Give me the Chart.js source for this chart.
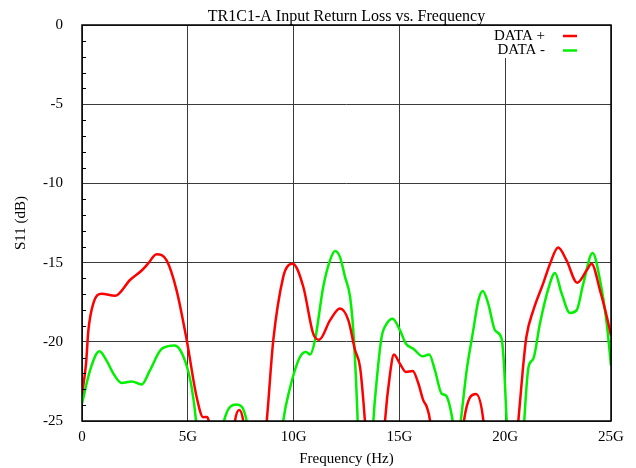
<!DOCTYPE html>
<html>
<head>
<meta charset="utf-8">
<title>TR1C1-A Input Return Loss</title>
<script src="https://cdn.jsdelivr.net/npm/chart.js@4.4.0/dist/chart.umd.min.js"></script>
<style>
    html, body { margin: 0; padding: 0; background: #fff; }
    #wrap { width: 636px; height: 468px; }
</style>
</head>
<body>
<div id="wrap"><canvas id="s11Chart" width="636" height="468"></canvas></div>
<script>
// Frequency in GHz, S11 in dB. Values below -25 dB run off the plot and get clipped.
const dataPlusFreq = [
    0.0, 0.19, 0.3, 0.53, 0.93, 1.56, 2.27, 2.82, 3.1, 3.53, 4.0, 4.47, 4.95, 5.42, 5.73, 5.9, 6.02, 6.3,
    7.0, 7.23, 7.43, 7.62, 7.85, 8.4, 8.73, 9.04, 9.51, 9.75, 9.96, 10.46, 10.93, 11.21, 11.72, 12.19,
    12.59, 12.9, 13.14, 13.37, 13.6, 14.1, 14.32, 14.56, 14.74, 15.03, 15.31, 15.63, 15.9, 16.13, 16.29,
    16.45, 16.7, 17.8, 18.05, 18.62, 18.97, 19.2, 20.4, 20.62, 20.83, 21.0, 21.33, 21.8, 22.12, 22.5,
    22.9, 23.4, 23.85, 24.08, 24.48, 24.8, 25.0
];
const dataPlusS11 = [
    -23.3, -21.4, -19.3, -17.6, -16.96, -17.1, -16.1, -15.5, -15.1, -14.47, -14.86, -16.75, -19.9, -23.5, -24.76, -24.75, -25.2, -29,
    -28, -25, -24.3, -25, -28, -29, -25, -19.9, -15.9, -15.17, -15.07, -16.54, -19.5, -19.87, -18.65, -17.9,
    -18.65, -20.5, -21.6, -25, -30, -30, -25, -22.0, -20.8, -21.4, -21.9, -21.85, -22.65, -23.7, -24.1,
    -25, -29, -29, -25, -23.3, -25, -29, -29, -25, -21.8, -19.7, -18.0, -16.3, -15.07, -14.05,
    -14.86, -16.27, -15.49, -15.07, -16.75, -18.4, -19.6
];

const dataMinusFreq = [
    0.0, 0.38, 0.82, 1.17, 1.48, 1.87, 2.35, 2.82, 3.21, 3.77, 4.39, 4.87, 5.18, 5.39, 5.6, 6.5, 6.71,
    7.31, 7.78, 8.0, 9.2, 9.51, 9.8, 10.3, 10.59, 10.78, 11.01, 11.4, 11.72, 11.96, 12.19, 12.43, 12.67,
    12.82, 12.95, 13.03, 13.2, 13.6, 13.77, 13.93, 14.16, 14.4, 14.68, 15.03, 15.31, 15.66, 16.1, 16.41,
    16.68, 17.0, 17.2, 17.52, 17.71, 17.9, 18.18, 18.49, 18.73, 18.94, 19.2, 19.52, 19.83, 19.94, 20.07,
    20.3, 20.7, 20.9, 21.1, 21.33, 21.64, 22.04, 22.35, 22.67, 23.06, 23.38, 23.69, 24.13, 24.48, 24.8, 25.0
];
const dataMinusS11 = [
    -23.9, -21.8, -20.6, -21.2, -22.0, -22.6, -22.5, -22.7, -21.8, -20.44, -20.23, -21.2, -22.86, -25, -29, -29, -25,
    -23.96, -25, -29, -29, -25, -23.07, -20.96, -20.65, -20.8, -19.9, -16.54, -14.86, -14.27, -14.64, -15.9, -17.17,
    -19.28, -22.4, -25, -30, -30, -25, -22.4, -19.7, -18.86, -18.54, -19.28, -20.12, -20.44, -20.92, -20.8,
    -21.8, -23.28, -23.39, -25, -27, -25, -21.8, -19.28, -17.4, -16.8, -17.6, -19.28, -19.8, -21.4, -25,
    -30, -30, -25, -21.6, -21.07, -18.86, -16.64, -15.65, -16.96, -18.18, -18.0, -16.33, -14.39, -16.1, -18.86, -21.5
];

const freqTicks = [0, 5, 10, 15, 20, 25];
const freqTickLabels = ['0', '5G', '10G', '15G', '20G', '25G'];
const s11Ticks = [0, -5, -10, -15, -20, -25];
const s11TickLabels = ['0', '-5', '-10', '-15', '-20', '-25'];
const seriesNames = ['DATA +', 'DATA -'];

const colors = {
    plus: '#ff0000',
    minus: '#00f000',
    grid: '#3a3a3a',
    frame: '#000000'
};
const FONT = "'Liberation Serif', 'Times New Roman', serif";

function toPoints(xs, ys) {
    return xs.map((x, i) => ({ x: x, y: ys[i] }));
}

// gnuplot look: frame, minor y ticks, centered title and the key in the top right corner
const gnuplotFrame = {
    id: 'gnuplotFrame',
    beforeDatasetsDraw(chart) {
        const { ctx, chartArea } = chart;
        // key background hides the grid behind it
        ctx.save();
        ctx.fillStyle = '#fff';
        ctx.fillRect(chartArea.right - 126, chartArea.top + 1, 125, 32);
        ctx.restore();
    },
    afterDatasetsDraw(chart) {
        const { ctx, chartArea } = chart;
        const yScale = chart.scales.y;
        ctx.save();
        ctx.strokeStyle = colors.frame;
        ctx.lineWidth = 1;
        for (let v = -24; v < 0; v++) {
            if (v % 5 === 0) continue;
            const py = Math.round(yScale.getPixelForValue(v)) + 0.5;
            ctx.beginPath();
            ctx.moveTo(chartArea.left, py);
            ctx.lineTo(chartArea.left + 4, py);
            ctx.stroke();
        }
        ctx.lineWidth = 1.5;
        ctx.strokeRect(chartArea.left, chartArea.top, chartArea.right - chartArea.left, chartArea.bottom - chartArea.top);
        ctx.restore();
    },
    afterDraw(chart) {
        const { ctx, chartArea } = chart;
        ctx.save();
        ctx.fillStyle = '#000';
        ctx.font = '16px ' + FONT;
        ctx.textAlign = 'center';
        ctx.textBaseline = 'alphabetic';
        ctx.fillText('TR1C1-A Input Return Loss vs. Frequency', (chartArea.left + chartArea.right) / 2, 21);

        // key
        ctx.font = '15px ' + FONT;
        ctx.textAlign = 'right';
        ctx.textBaseline = 'middle';
        const keyColors = [colors.plus, colors.minus];
        seriesNames.forEach((name, i) => {
            const y = chartArea.top + 11 + i * 14.5;
            ctx.fillStyle = '#000';
            ctx.fillText(name, chartArea.right - 66, y);
            ctx.strokeStyle = keyColors[i];
            ctx.lineWidth = 2.5;
            ctx.beginPath();
            ctx.moveTo(chartArea.right - 48, y);
            ctx.lineTo(chartArea.right - 34, y);
            ctx.stroke();
        });
        ctx.restore();
    }
};

const lineStyle = {
    borderWidth: 2.5,
    pointRadius: 0,
    fill: false,
    cubicInterpolationMode: 'monotone',
    clip: 0
};

const config = {
    type: 'line',
    data: {
        datasets: [
            Object.assign({
                label: seriesNames[0],
                data: toPoints(dataPlusFreq, dataPlusS11),
                borderColor: colors.plus
            }, lineStyle),
            Object.assign({
                label: seriesNames[1],
                data: toPoints(dataMinusFreq, dataMinusS11),
                borderColor: colors.minus
            }, lineStyle)
        ]
    },
    options: {
        responsive: false,
        animation: false,
        devicePixelRatio: 1,
        layout: {
            padding: { top: 25, right: 25, left: 0, bottom: 0 }
        },
        plugins: {
            legend: { display: false },
            title: { display: false },
            tooltip: { enabled: false }
        },
        scales: {
            x: {
                type: 'linear',
                min: 0,
                max: 25,
                afterFit: (scale) => { scale.height = 47; },
                afterBuildTicks: (scale) => { scale.ticks = freqTicks.map(v => ({ value: v })); },
                grid: { color: colors.grid, lineWidth: 1, drawTicks: false },
                border: { display: false },
                ticks: {
                    padding: 7,
                    color: '#000',
                    font: { family: FONT, size: 15 },
                    maxRotation: 0,
                    autoSkip: false,
                    callback: (value) => freqTickLabels[freqTicks.indexOf(value)]
                },
                title: {
                    display: true,
                    text: 'Frequency (Hz)',
                    color: '#000',
                    font: { family: FONT, size: 15 },
                    padding: { top: 0, bottom: 0 }
                }
            },
            y: {
                type: 'linear',
                min: -25,
                max: 0,
                afterFit: (scale) => {
                    scale.width = 82;
                    // labels stick out above the plot; let the layout padding decide the top edge
                    scale.paddingTop = 0;
                    scale.paddingBottom = 0;
                },
                afterBuildTicks: (scale) => { scale.ticks = s11Ticks.map(v => ({ value: v })); },
                grid: { color: colors.grid, lineWidth: 1, drawTicks: false },
                border: { display: false },
                ticks: {
                    padding: 19,
                    color: '#000',
                    font: { family: FONT, size: 15 },
                    autoSkip: false,
                    callback: (value) => s11TickLabels[s11Ticks.indexOf(value)]
                },
                title: {
                    display: true,
                    text: 'S11 (dB)',
                    color: '#000',
                    font: { family: FONT, size: 15 },
                    padding: { top: 12, bottom: 0 }
                }
            }
        }
    },
    plugins: [gnuplotFrame]
};

new Chart(document.getElementById('s11Chart'), config);
</script>
</body>
</html>
